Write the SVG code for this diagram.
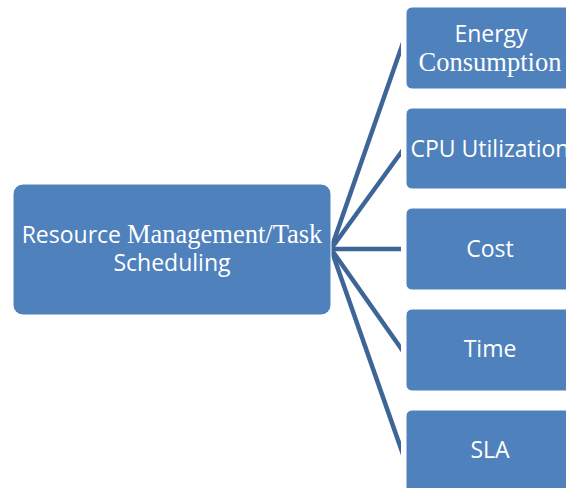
<svg xmlns="http://www.w3.org/2000/svg" width="566" height="488" viewBox="0 0 566 488">
<style>
.box{fill:#4f81bd;stroke:#ffffff;stroke-width:1}
.sans{font-family:"Open Sans","Liberation Sans",sans-serif;font-size:23px;fill:#ffffff;text-anchor:middle}
.serif{font-family:"Liberation Serif","Times New Roman",serif;font-size:26.5px;fill:#ffffff}
.conn{stroke:#3d6697;stroke-width:4.5;fill:none;stroke-linecap:butt}
</style>
<defs>
<clipPath id="clip"><rect x="320" y="0" width="81" height="488"/></clipPath>
</defs>
<g id="connectors" clip-path="url(#clip)">
<line class="conn" x1="331" y1="249" x2="405" y2="37"/>
<line class="conn" x1="331" y1="249" x2="405" y2="147"/>
<line class="conn" x1="331" y1="249" x2="405" y2="249"/>
<line class="conn" x1="331" y1="249" x2="405" y2="354"/>
<line class="conn" x1="331" y1="249" x2="405" y2="460"/>
</g>
<g id="center">
<rect class="box" x="13" y="184" width="318" height="131" rx="10"/>
<text class="sans" x="172" y="243"><tspan>Resource </tspan><tspan class="serif">Management/Task</tspan></text>
<text class="sans" x="172" y="271">Scheduling</text>
</g>
<g id="energy">
<rect class="box" x="406" y="7" width="170" height="82" rx="6"/>
<text class="sans" x="491" y="42">Energy</text>
<text class="serif" x="490" y="71" text-anchor="middle">Consumption</text>
</g>
<g id="cpu">
<rect class="box" x="406" y="108" width="170" height="81" rx="6"/>
<text class="sans" x="490" y="157">CPU Utilization</text>
</g>
<g id="cost">
<rect class="box" x="406" y="208" width="170" height="82" rx="6"/>
<text class="sans" x="490" y="257">Cost</text>
</g>
<g id="time">
<rect class="box" x="406" y="309" width="170" height="82" rx="6"/>
<text class="sans" x="490" y="357">Time</text>
</g>
<g id="sla">
<rect class="box" x="406" y="410" width="170" height="90" rx="6"/>
<text class="sans" x="490" y="458">SLA</text>
</g>
</svg>
